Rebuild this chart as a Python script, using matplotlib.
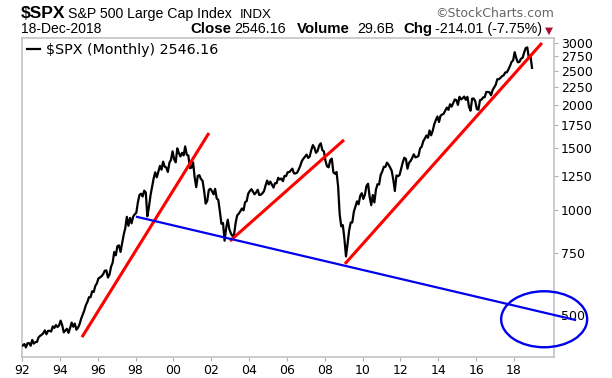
import numpy as np
import pandas as pd
import matplotlib
matplotlib.use("Agg")
import matplotlib.pyplot as plt
from matplotlib.patches import Ellipse
from matplotlib.ticker import FixedLocator, FixedFormatter, NullLocator

# ---------------- data: S&P 500 monthly closes ----------------
spx_1990s = [
    408.8, 412.7, 403.7, 414.9, 415.4, 408.1, 424.2, 414.0, 417.8, 418.7, 431.4, 435.7,   # 1992
    438.8, 443.4, 451.7, 440.2, 450.2, 450.5, 448.1, 463.6, 458.9, 467.8, 461.8, 466.5,   # 1993
    481.6, 467.1, 445.8, 450.9, 456.5, 444.3, 458.3, 475.5, 462.7, 472.4, 453.7, 459.3,   # 1994
    470.4, 487.4, 500.7, 514.7, 533.4, 544.8, 562.1, 561.9, 584.4, 581.5, 605.4, 615.9,   # 1995
    636.0, 640.4, 645.5, 654.2, 669.1, 670.6, 639.9, 652.0, 687.3, 705.3, 757.0, 740.7,   # 1996
    786.2, 790.8, 757.1, 801.3, 848.3, 885.1, 954.3, 899.5, 947.3, 914.6, 955.4, 970.4,   # 1997
    980.3, 1049.3, 1101.8, 1111.8, 1090.8, 1133.8, 1120.7, 957.3, 1017.0, 1098.7, 1163.6, 1229.2,  # 1998
    1279.6, 1238.3, 1286.4, 1335.2, 1301.8, 1372.7, 1328.7, 1320.4, 1282.7, 1362.9, 1388.9, 1469.3,  # 1999
]
spx_2000s = [
    1394.5, 1366.4, 1498.6, 1452.4, 1420.6, 1454.6, 1430.8, 1517.7, 1436.5, 1429.4, 1315.2, 1320.3,  # 2000
    1366.0, 1239.9, 1160.3, 1249.5, 1255.8, 1224.4, 1211.2, 1133.6, 1040.9, 1059.8, 1139.5, 1148.1,  # 2001
    1130.2, 1106.7, 1147.4, 1076.9, 1067.1, 989.8, 911.6, 916.1, 815.3, 885.8, 936.3, 879.8,         # 2002
    855.7, 841.2, 848.2, 916.9, 963.6, 974.5, 990.3, 1008.0, 996.0, 1050.7, 1058.2, 1111.9,          # 2003
    1131.1, 1144.9, 1126.2, 1107.3, 1120.7, 1140.8, 1101.7, 1104.2, 1114.6, 1130.2, 1173.8, 1211.9,  # 2004
    1181.3, 1203.6, 1180.6, 1156.9, 1191.5, 1191.3, 1234.2, 1220.3, 1228.8, 1207.0, 1249.5, 1248.3,  # 2005
    1280.1, 1280.7, 1294.9, 1310.6, 1270.1, 1270.2, 1276.7, 1303.8, 1335.9, 1377.9, 1400.6, 1418.3,  # 2006
    1438.2, 1406.8, 1420.9, 1482.4, 1530.6, 1503.4, 1455.3, 1474.0, 1526.8, 1549.4, 1481.1, 1468.4,  # 2007
    1378.6, 1330.6, 1322.7, 1385.6, 1400.4, 1280.0, 1267.4, 1282.8, 1166.4, 968.8, 896.2, 903.3,     # 2008
    825.9, 735.1, 797.9, 872.8, 919.1, 919.3, 987.5, 1020.6, 1057.1, 1036.2, 1095.6, 1115.1,         # 2009
]
spx_2010s = [
    1073.9, 1104.5, 1169.4, 1186.7, 1089.4, 1030.7, 1101.6, 1049.3, 1141.2, 1183.3, 1180.6, 1257.6,  # 2010
    1286.1, 1327.2, 1325.8, 1363.6, 1345.2, 1320.6, 1292.3, 1218.9, 1131.4, 1253.3, 1247.0, 1257.6,  # 2011
    1312.4, 1365.7, 1408.5, 1397.9, 1310.3, 1362.2, 1379.3, 1406.6, 1440.7, 1412.2, 1416.2, 1426.2,  # 2012
    1498.1, 1514.7, 1569.2, 1597.6, 1630.7, 1606.3, 1685.7, 1633.0, 1681.6, 1756.5, 1805.8, 1848.4,  # 2013
    1782.6, 1859.5, 1872.3, 1884.0, 1923.6, 1960.2, 1930.7, 2003.4, 1972.3, 2018.1, 2067.6, 2058.9,  # 2014
    1995.0, 2104.5, 2067.9, 2085.5, 2107.4, 2063.1, 2103.8, 1972.2, 1920.0, 2079.4, 2080.4, 2043.9,  # 2015
    1940.2, 1932.2, 2059.7, 2065.3, 2097.0, 2098.9, 2173.6, 2171.0, 2168.3, 2126.2, 2199.0, 2238.8,  # 2016
    2278.9, 2363.6, 2362.7, 2384.2, 2411.8, 2423.4, 2470.3, 2471.7, 2519.4, 2575.3, 2647.6, 2673.6,  # 2017
    2823.8, 2713.8, 2640.9, 2648.1, 2705.3, 2718.4, 2816.3, 2901.5, 2914.0, 2711.7, 2760.2, 2546.16, # 2018
]
start_year = 1992

# hand-drawn annotation lines (decimal year, index level)
red_x0 = [1995.17, 2002.99, 2009.07]
red_y0 = [432, 814, 700]
red_x1 = [2001.88, 2009.02, 2019.48]
red_y1 = [1658, 1584, 2999]
blue_x = [1998.08, 2021.23]
blue_y = [954, 484]
circle_center = (2019.60, 486)

x_tick_years = list(range(1992, 2019, 2))
x_tick_labels = ["%02d" % (y % 100) for y in x_tick_years]
y_ticks = [500, 750, 1000, 1250, 1500, 1750, 2000, 2250, 2500, 2750, 3000]
y_tick_labels = [str(v) for v in y_ticks]

# ---------------- figure ----------------
W, H = 612, 378
fig = plt.figure(figsize=(W / 100, H / 100), dpi=100)
ax_l, ax_r, ax_t, ax_b = 22, 554, 38, 357
ax = fig.add_axes([ax_l / W, 1 - ax_b / H, (ax_r - ax_l) / W, (ax_b - ax_t) / H])

values = spx_1990s + spx_2000s + spx_2010s
xs = start_year + (np.arange(len(values)) + 0.5) / 12.0
ax.plot(xs, values, color="black", lw=1.6, label="$SPX (Monthly) 2546.16", zorder=3)

for a, b, c, d in zip(red_x0, red_y0, red_x1, red_y1):
    ax.plot([a, c], [b, d], color="#ff0000", lw=2.2, solid_capstyle="butt", zorder=4, clip_on=False)
ax.plot(blue_x, blue_y, color="#0000ee", lw=1.6, zorder=4, clip_on=False)

ax.set_yscale("log")
ax.set_xlim(1992.0, 2020.12)
ax.set_ylim(379, 3100)

ax.yaxis.tick_right()
ax.yaxis.set_major_locator(FixedLocator(y_ticks))
ax.yaxis.set_major_formatter(FixedFormatter(y_tick_labels))
ax.yaxis.set_minor_locator(NullLocator())
ax.xaxis.set_major_locator(FixedLocator(x_tick_years))
ax.xaxis.set_major_formatter(FixedFormatter(x_tick_labels))
ax.xaxis.set_minor_locator(NullLocator())
ax.tick_params(axis="both", direction="out", length=3, width=0.8, color="#b0b0b0",
               labelsize=9, labelcolor="black", pad=2)
for lab in ax.get_xticklabels() + ax.get_yticklabels():
    lab.set_fontfamily("DejaVu Sans")
for s in ax.spines.values():
    s.set_color("#c4c4c4")
    s.set_linewidth(1.2)

# ellipse annotation (drawn in axes-fraction space so it stays a true ellipse)
cx, cy = (ax.transScale + ax.transLimits).transform(circle_center)
ell = Ellipse((cx, cy), 86 / (ax_r - ax_l), 56 / (ax_b - ax_t), transform=ax.transAxes,
              fill=False, edgecolor="#0000ee", lw=1.7, clip_on=False, zorder=5)
ax.add_patch(ell)

leg = ax.legend(loc="upper left", frameon=False, handlelength=0.9, handletextpad=0.4,
                borderaxespad=0.2, borderpad=0.15,
                prop=dict(family="DejaVu Sans", size=10.3))

# ---------------- header ----------------
def ftxt(x, y, s, **kw):
    fig.text(x / W, 1 - y / H, s, va="baseline", ha="left", **kw)

ftxt(21, 18, "$SPX", family="Liberation Sans", weight="bold", size=12.5)
ftxt(68, 18, "S&P 500 Large Cap Index", family="Liberation Sans", size=10.2)
ftxt(240, 18, "INDX", family="Liberation Sans", size=9.5)
ftxt(435, 17, "\u00a9StockCharts.com", family="DejaVu Sans", size=9, color="#666666")
ftxt(21, 33, "18-Dec-2018", family="Liberation Sans", size=10)
ftxt(190, 33, "Close", family="Liberation Sans", weight="bold", size=10.8)
ftxt(234, 33, "2546.16", family="Liberation Sans", size=10.3)
ftxt(297, 33, "Volume", family="Liberation Sans", weight="bold", size=10.8)
ftxt(357, 33, "29.6B", family="Liberation Sans", size=10.3)
ftxt(403, 33, "Chg", family="Liberation Sans", weight="bold", size=10.8)
ftxt(435, 33, "-214.01 (-7.75%)", family="Liberation Sans", size=10.3)
fig.text(549 / W, 1 - 30.5 / H, "\u25bc", family="DejaVu Sans", size=7.5, color="#b01030",
         ha="center", va="center")

fig.savefig("out.png", dpi=100)
